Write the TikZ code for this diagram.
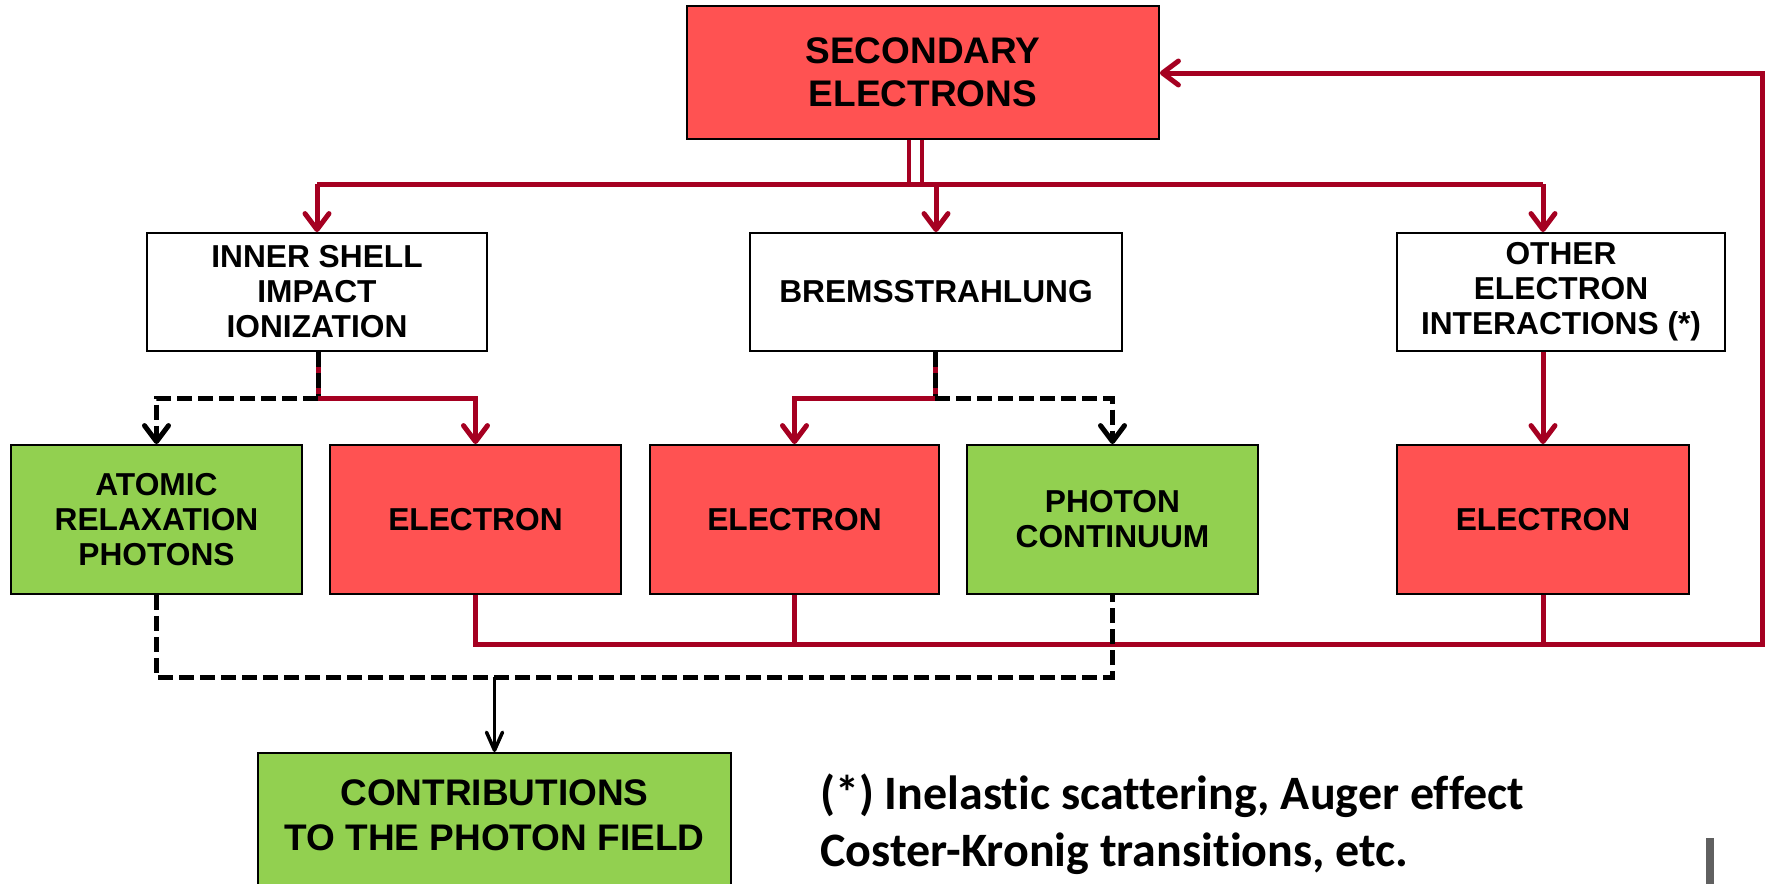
\documentclass[tikz,border=0pt]{standalone}
\usepackage{fontspec}
\setmainfont{Liberation Sans}
\newfontfamily\carl[Ligatures=NoCommon]{Carlito}
\usetikzlibrary{arrows.meta}
\definecolor{boxred}{HTML}{FF5252}
\definecolor{boxgreen}{HTML}{92D050}
\definecolor{linered}{HTML}{A50021}
\definecolor{bargray}{HTML}{606060}
\begin{document}
\begin{tikzpicture}[x=1pt,y=-1pt,
  box/.style={draw=black,line width=1.8pt,align=center,inner sep=0pt,
    font=\bfseries\fontsize{31.7}{35}\selectfont},
  redbox/.style={box,fill=boxred},
  greenbox/.style={box,fill=boxgreen},
  whitebox/.style={box,fill=white},
  rline/.style={draw=linered,line width=5pt},
  dline/.style={draw=black,line width=5pt,dash pattern=on 15pt off 6pt},
  rarrow/.style={rline,-{Straight Barb[length=16pt,width=24pt,line width=5pt,round]}},
  darrow/.style={dline,-{Straight Barb[length=16pt,width=24pt,line width=5pt,round]}},
  karrow/.style={draw=black,line width=3.5pt,-{Straight Barb[length=18pt,width=16pt,line width=3.5pt,round]}},
  note/.style={anchor=base west,inner sep=0pt,font=\carl\bfseries\fontsize{48}{57}\selectfont}
]
\useasboundingbox (0,0) rectangle (1768,883);
\clip (0,0) rectangle (1768,883);

% nodes
\node[redbox,minimum width=472pt,minimum height=133pt,font=\bfseries\fontsize{37}{43}\selectfont] (SE) at (923,72.5) {SECONDARY\\ELECTRONS};
\node[whitebox,minimum width=340pt,minimum height=118pt] (IS) at (317,292) {INNER SHELL\\IMPACT\\IONIZATION};
\node[whitebox,minimum width=372pt,minimum height=118pt] (BR) at (936,292) {BREMSSTRAHLUNG};
\node[whitebox,minimum width=328pt,minimum height=118pt] (OT) at (1561,292) {OTHER\\ELECTRON\\INTERACTIONS (*)};
\node[greenbox,minimum width=291pt,minimum height=149pt] (AT) at (156.5,519.5) {ATOMIC\\RELAXATION\\PHOTONS};
\node[redbox,minimum width=291pt,minimum height=149pt] (E1) at (475.5,519.5) {ELECTRON};
\node[redbox,minimum width=289pt,minimum height=149pt] (E2) at (794.5,519.5) {ELECTRON};
\node[greenbox,minimum width=291pt,minimum height=149pt] (PC) at (1112.5,519.5) {PHOTON\\CONTINUUM};
\node[redbox,minimum width=292pt,minimum height=149pt] (E3) at (1543,519.5) {ELECTRON};
\node[greenbox,minimum width=473pt,minimum height=150pt,anchor=north] (CO) at (494.5,752) {};
\node[font=\bfseries\fontsize{37}{45}\selectfont,align=center] (COt) at (494.5,815) {CONTRIBUTIONS\\TO THE PHOTON FIELD};

% coordinates
\coordinate (bus) at (0,184);
\coordinate (d1) at (909,0);
\coordinate (d2) at (922,0);
\coordinate (j1) at (318,398);
\coordinate (j2) at (935,398);
\coordinate (rb) at (1762,644);
\coordinate (rt) at (1762,73);
\coordinate (db) at (0,677);

% top double connector and bus
\draw[rline,line width=4.5pt] (SE.south -| d1) -- (d1 |- bus);
\draw[rline,line width=4.5pt] (SE.south -| d2) -- (d2 |- bus);
\draw[rline] (IS.north |- bus) -- (E3.north |- bus);
\draw[rarrow] (IS.north |- bus) -- (IS.north);
\draw[rarrow] (BR.north |- bus) -- (BR.north);
\draw[rarrow] (E3.north |- bus) -- (E3.north |- OT.north);

% inner shell split
\draw[rline] (IS.south -| j1) -- (j1);
\draw[dline] (IS.south -| j1) -- (j1);
\draw[rarrow] (j1) -| (E1.north);
\draw[darrow] (j1) -| (AT.north);

% bremsstrahlung split
\draw[rline] (BR.south -| j2) -- (j2);
\draw[dline] (BR.south -| j2) -- (j2);
\draw[rarrow] (j2) -| (E2.north);
\draw[darrow] (j2) -| (PC.north);

% other -> electron
\draw[rarrow] (E3.north |- OT.south) -- (E3.north);

% feedback loop
\draw[rarrow] (E1.south) |- (rb) -- (rt) -- (SE.east |- rt);
\draw[rline] (E2.south) -- (E2.south |- rb);
\draw[rline] (E3.south) -- (E3.south |- rb);

% photon collection
\draw[dline] (AT.south) -- (AT.south |- db) -- (PC.south |- db) -- (PC.south);
\draw[karrow] (CO.north |- db) -- (CO.north);

% footnote
\node[note] (fn1) at (820,809) {(*) Inelastic scattering, Auger effect};
\node[note] (fn2) at (820,866) {Coster-Kronig transitions, etc.};

% gray bar
\node[fill=bargray,minimum width=8pt,minimum height=60pt,inner sep=0pt,anchor=north west] (bar) at (1706,838) {};
\end{tikzpicture}
\end{document}
